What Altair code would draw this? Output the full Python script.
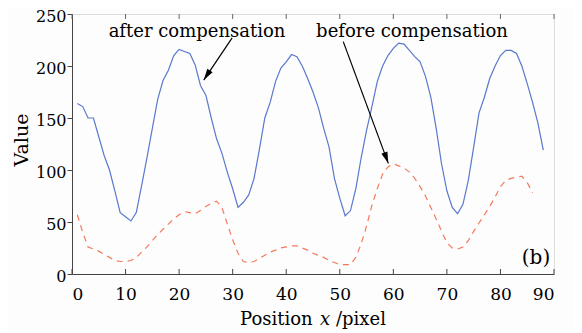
import altair as alt
import pandas as pd

# ---- data ----
after_x = list(range(1, 89))
after_y = [164, 161, 150, 150, 132, 114, 100, 80, 59, 55,
           51, 59, 85, 112, 140, 168, 186, 196, 210, 216,
           214, 212, 201, 181, 172, 150, 130, 116, 98, 82,
           64, 69, 76, 92, 120, 150, 165, 185, 198, 204,
           211, 209, 200, 188, 175, 160, 140, 122, 92, 73,
           56, 61, 82, 112, 138, 161, 185, 200, 210, 217,
           222, 221, 215, 209, 204, 190, 170, 140, 106, 80,
           64, 58, 67, 90, 122, 155, 170, 188, 200, 210,
           215, 215, 212, 200, 183, 165, 145, 119]

before_x = list(range(1, 87))
before_y = [57, 40, 26, 24, 22, 19, 16, 13, 12, 12,
            13, 16, 21, 26, 32, 38, 43, 48, 53, 57,
            60, 59, 58, 61, 65, 68, 70, 64, 48, 33,
            20, 12, 11, 12, 15, 18, 21, 23, 25, 26,
            27, 27, 25, 23, 20, 18, 16, 13, 11, 9,
            9, 9, 16, 29, 46, 66, 82, 96, 103, 106,
            104, 102, 98, 92, 84, 75, 64, 53, 41, 30,
            25, 24, 26, 32, 41, 49, 57, 65, 74, 84,
            90, 92, 93, 94, 88, 78]

x_ticks = [0, 10, 20, 30, 40, 50, 60, 70, 80, 90]
y_ticks = [0, 50, 100, 150, 200, 250]

ann_labels = ["after compensation", "before compensation"]
ann_x_start = [29.9, 50.65]
ann_y_start = [227, 223.4]
ann_x_end = [24.6, 59.06]
ann_y_end = [186.5, 106.4]
ann_angle = [213, 160]

FONT = "DejaVu Serif"
W, H = 482, 260

df_after = pd.DataFrame({"x": after_x, "y": after_y})
df_before = pd.DataFrame({"x": before_x, "y": before_y})
df_arrow = pd.DataFrame({"x": ann_x_start, "y": ann_y_start,
                         "x2": ann_x_end, "y2": ann_y_end, "angle": ann_angle})
df_ticks = pd.DataFrame({"t": x_ticks})

xs = alt.Scale(domain=[0, 90], nice=False, zero=False)
ys = alt.Scale(domain=[0, 250], nice=False)

x_axis = alt.Axis(values=x_ticks, title=None, ticks=False, tickSize=0,
                  labelPadding=12, labelFont=FONT, labelFontSize=17,
                  labelColor="black", domainColor="#444", grid=False)
y_axis = alt.Axis(values=y_ticks, title=None, tickSize=5, tickColor="#444",
                  labelPadding=1, labelOffset=2.5, labelFont=FONT, labelFontSize=16,
                  labelColor="black", domainColor="#444", grid=False)

after = alt.Chart(df_after).mark_line(color="#5a78cc", strokeWidth=1.2).encode(
    x=alt.X("x:Q", scale=xs, axis=x_axis),
    y=alt.Y("y:Q", scale=ys, axis=y_axis),
)
before = alt.Chart(df_before).mark_line(color="#f4795c", strokeWidth=1.2,
                                        strokeDash=[6, 5]).encode(
    x=alt.X("x:Q", scale=xs),
    y=alt.Y("y:Q", scale=ys),
)

bottom_ticks = alt.Chart(df_ticks).mark_rule(color="#444").encode(
    x=alt.X("t:Q", scale=xs), y=alt.value(H), y2=alt.value(H - 5))
top_ticks = alt.Chart(df_ticks).mark_rule(color="#666").encode(
    x=alt.X("t:Q", scale=xs), y=alt.value(0), y2=alt.value(5))

arrows = alt.Chart(df_arrow).mark_rule(color="black", strokeWidth=1.2).encode(
    x=alt.X("x:Q", scale=xs), y=alt.Y("y:Q", scale=ys),
    x2="x2:Q", y2="y2:Q")
heads = alt.Chart(df_arrow).mark_point(
    shape="M0,0L0.28,1L-0.28,1Z", filled=True, color="black", opacity=1,
    size=520).encode(
    x=alt.X("x2:Q", scale=xs), y=alt.Y("y2:Q", scale=ys),
    angle=alt.Angle("angle:Q", scale=None))

def txt(s, px, py, size=18, align="center", style="normal", angle=0,
        baseline="middle"):
    return alt.Chart(pd.DataFrame({"t": [s]})).mark_text(
        font=FONT, fontSize=size, align=align, baseline=baseline,
        fontStyle=style, color="black", angle=angle).encode(
        text="t:N", x=alt.value(px), y=alt.value(py))

labels = [
    txt(ann_labels[0], 125, 18),
    txt(ann_labels[1], 340, 18),
    txt("(b)", 464, 244, size=20),
    txt("Value", -50, 126, size=19, angle=270),
    txt("Position", 168, 311, align="left", baseline="alphabetic"),
    txt("x", 248, 311, align="left", style="italic", baseline="alphabetic"),
    txt("/pixel", 264, 311, align="left", baseline="alphabetic"),
]

chart = alt.layer(after, before, bottom_ticks, top_ticks, arrows, heads, *labels).properties(
    width=W, height=H,
    autosize=alt.AutoSizeParams(type="none"),
    padding={"left": 64, "top": 6, "right": 20, "bottom": 57},
).configure_view(stroke="#888", strokeWidth=1).configure(background="#fdfdfd")

chart.save("out.html", embed_options={"renderer": "svg", "actions": False})
